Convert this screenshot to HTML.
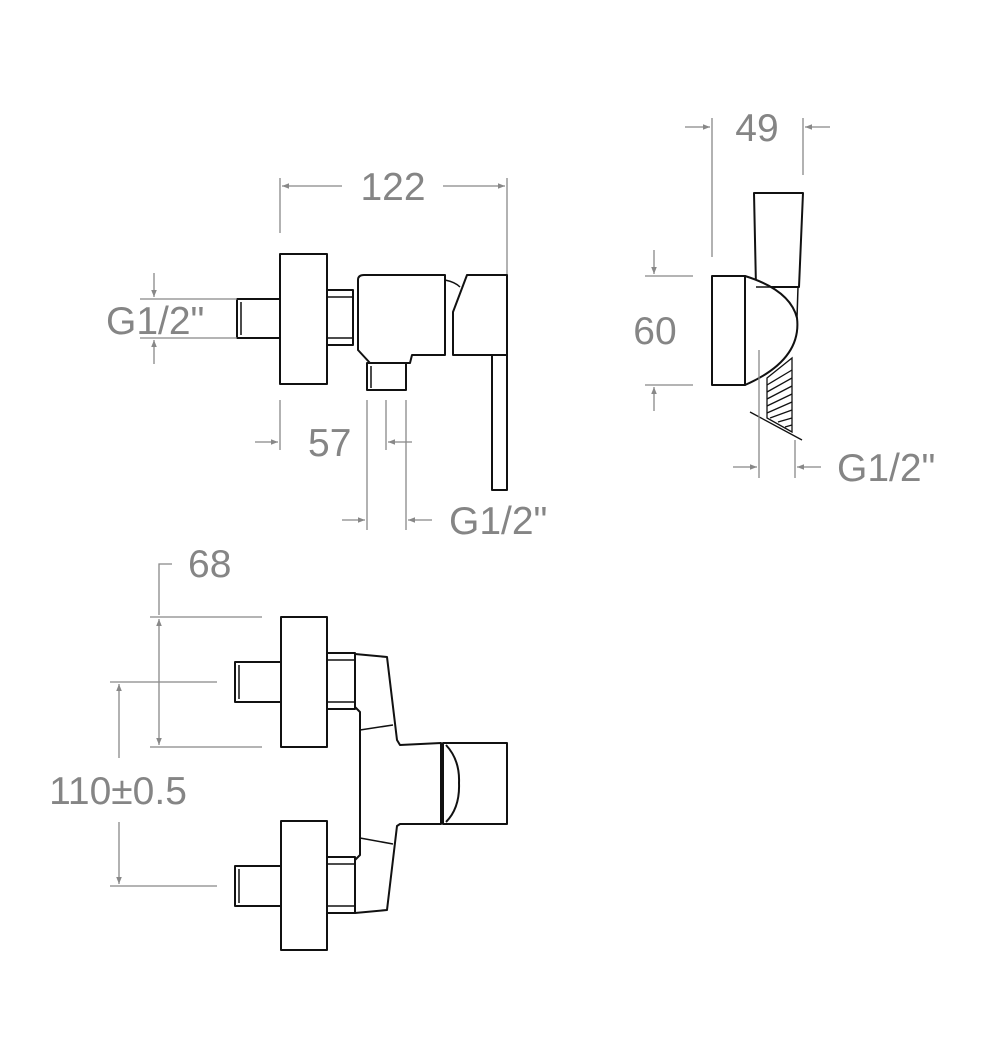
<!DOCTYPE html>
<html><head><meta charset="utf-8"><style>
html,body{margin:0;padding:0;background:#fff;}
svg{display:block;}
text{font-family:"Liberation Sans",sans-serif;fill:#858585;font-size:39px;}
.p{fill:#fff;stroke:#111;stroke-width:2;stroke-linejoin:round;}
.d{stroke:#888;stroke-width:1.3;fill:none;}
</style></head><body>
<svg width="1000" height="1039" viewBox="0 0 1000 1039" xmlns="http://www.w3.org/2000/svg">
<defs>
<marker id="ar" viewBox="0 0 10 10" refX="10" refY="5" markerWidth="14" markerHeight="7" orient="auto-start-reverse" markerUnits="userSpaceOnUse">
<path d="M0,1 L10,5 L0,9 z" fill="#888"/></marker>
</defs>

<line class="d" x1="280" y1="178" x2="280" y2="233"/>
<line class="d" x1="507" y1="178" x2="507" y2="490"/>
<line class="d" x1="282" y1="186" x2="342" y2="186" marker-start="url(#ar)"/>
<line class="d" x1="443" y1="186" x2="505" y2="186" marker-end="url(#ar)"/>
<text x="393" y="200" text-anchor="middle">122</text>

<rect class="p" x="237" y="299" width="43" height="39"/>
<line stroke="#111" stroke-width="1.5" x1="241" y1="302" x2="241" y2="335"/>
<rect class="p" x="280" y="254" width="47" height="130"/>
<rect class="p" x="327" y="290" width="26" height="55"/>
<line stroke="#111" stroke-width="1.5" x1="327" y1="297" x2="353" y2="297"/>
<line stroke="#111" stroke-width="1.5" x1="327" y1="338" x2="353" y2="338"/>
<path class="p" d="M358,280 Q358,275 364,275 L445,275 L445,355 L412,355 L410,363 L370,363 L358,350 Z"/>
<path class="p" d="M367,363 L406,363 L406,390 L367,390 Z"/>
<line stroke="#111" stroke-width="1.5" x1="371" y1="366" x2="371" y2="388"/>
<path class="p" d="M467,275 L507,275 L507,355 L453,355 L453,312 Z"/>
<path fill="none" stroke="#111" stroke-width="1.5" d="M445,280 Q455,282 460,287"/>
<rect class="p" x="492" y="355" width="15" height="135"/>

<line class="d" x1="140" y1="299" x2="237" y2="299"/>
<line class="d" x1="140" y1="338" x2="237" y2="338"/>
<line class="d" x1="154" y1="273" x2="154" y2="297" marker-end="url(#ar)"/>
<line class="d" x1="154" y1="364" x2="154" y2="340" marker-end="url(#ar)"/>
<text x="106" y="334">G1/2"</text>

<line class="d" x1="280" y1="400" x2="280" y2="450"/>
<line class="d" x1="255" y1="442" x2="278" y2="442" marker-end="url(#ar)"/>
<text x="308" y="456">57</text>
<line class="d" x1="367" y1="400" x2="367" y2="530"/>
<line class="d" x1="386" y1="400" x2="386" y2="450"/>
<line class="d" x1="406" y1="400" x2="406" y2="530"/>
<line class="d" x1="412" y1="442" x2="388" y2="442" marker-end="url(#ar)"/>
<line class="d" x1="342" y1="520" x2="365" y2="520" marker-end="url(#ar)"/>
<line class="d" x1="432" y1="520" x2="408" y2="520" marker-end="url(#ar)"/>
<text x="449" y="534">G1/2"</text>

<line class="d" x1="712" y1="118" x2="712" y2="257"/>
<line class="d" x1="803" y1="118" x2="803" y2="175"/>
<line class="d" x1="685" y1="127" x2="710" y2="127" marker-end="url(#ar)"/>
<line class="d" x1="830" y1="127" x2="805" y2="127" marker-end="url(#ar)"/>
<text x="757" y="141" text-anchor="middle">49</text>

<path class="p" d="M754,193 L803,193 L799,287 L756,287 Z"/>
<path class="p" d="M745,276 Q790,290 797,318 Q802,360 745,385 Z"/>
<path fill="none" stroke="#111" stroke-width="1.5" d="M756,287 L798,287 L797,318"/>
<rect class="p" x="712" y="276" width="33" height="109"/>
<g stroke="#111" stroke-width="1.3">
<path fill="#fff" d="M767,378 L792,358 L792,432 L767,418 Z"/>
<line x1="767" y1="385" x2="792" y2="370"/><line x1="767" y1="392" x2="792" y2="378"/>
<line x1="767" y1="399" x2="792" y2="386"/><line x1="767" y1="406" x2="792" y2="394"/>
<line x1="767" y1="413" x2="792" y2="402"/><line x1="770" y1="418" x2="792" y2="410"/>
<line x1="778" y1="422" x2="792" y2="418"/><line x1="785" y1="427" x2="792" y2="425"/>
<line x1="750" y1="412" x2="802" y2="440"/>
</g>
<line class="d" x1="759" y1="350" x2="759" y2="478"/>
<line class="d" x1="795" y1="440" x2="795" y2="478"/>
<line class="d" x1="645" y1="276" x2="693" y2="276"/>
<line class="d" x1="645" y1="385" x2="693" y2="385"/>
<line class="d" x1="654" y1="250" x2="654" y2="274" marker-end="url(#ar)"/>
<line class="d" x1="654" y1="411" x2="654" y2="387" marker-end="url(#ar)"/>
<text x="655" y="344" text-anchor="middle">60</text>
<line class="d" x1="733" y1="467" x2="757" y2="467" marker-end="url(#ar)"/>
<line class="d" x1="821" y1="467" x2="797" y2="467" marker-end="url(#ar)"/>
<text x="837" y="481">G1/2"</text>

<path class="d" d="M172,564 L159,564 L159,615" />
<line class="d" x1="159" y1="640" x2="159" y2="619" marker-end="url(#ar)"/>
<line class="d" x1="159" y1="640" x2="159" y2="745" marker-end="url(#ar)"/>
<line class="d" x1="150" y1="617" x2="262" y2="617"/>
<line class="d" x1="150" y1="747" x2="262" y2="747"/>
<text x="188" y="577">68</text>
<line class="d" x1="110" y1="682" x2="217" y2="682"/>
<line class="d" x1="110" y1="886" x2="217" y2="886"/>
<line class="d" x1="119" y1="758" x2="119" y2="684" marker-end="url(#ar)"/>
<line class="d" x1="119" y1="822" x2="119" y2="884" marker-end="url(#ar)"/>
<text x="118" y="804" text-anchor="middle">110±0.5</text>

<path class="p" d="M355,654 L387,657 L397,740 L400,745 L441,743 L441,824 L400,824 L397,826 L387,910 L355,913 L355,860 L360,855 L360,712 L355,707 Z"/>
<path fill="none" stroke="#111" stroke-width="1.5" d="M360,730 L393,725 M360,838 L393,844"/>
<path class="p" d="M443,743 L507,743 L507,824 L443,824 Z"/>
<path fill="none" stroke="#111" stroke-width="2" d="M446,745 Q460,760 459,783 Q460,808 446,822"/>

<rect class="p" x="235" y="662" width="46" height="40"/>
<line stroke="#111" stroke-width="1.5" x1="239" y1="665" x2="239" y2="699"/>
<rect class="p" x="281" y="617" width="46" height="130"/>
<rect class="p" x="327" y="653" width="28" height="56"/>
<line stroke="#111" stroke-width="1.5" x1="327" y1="660" x2="355" y2="660"/>
<line stroke="#111" stroke-width="1.5" x1="327" y1="702" x2="355" y2="702"/>

<rect class="p" x="235" y="866" width="46" height="40"/>
<line stroke="#111" stroke-width="1.5" x1="239" y1="869" x2="239" y2="903"/>
<rect class="p" x="281" y="821" width="46" height="129"/>
<rect class="p" x="327" y="857" width="28" height="56"/>
<line stroke="#111" stroke-width="1.5" x1="327" y1="864" x2="355" y2="864"/>
<line stroke="#111" stroke-width="1.5" x1="327" y1="906" x2="355" y2="906"/>
</svg>
</body></html>
